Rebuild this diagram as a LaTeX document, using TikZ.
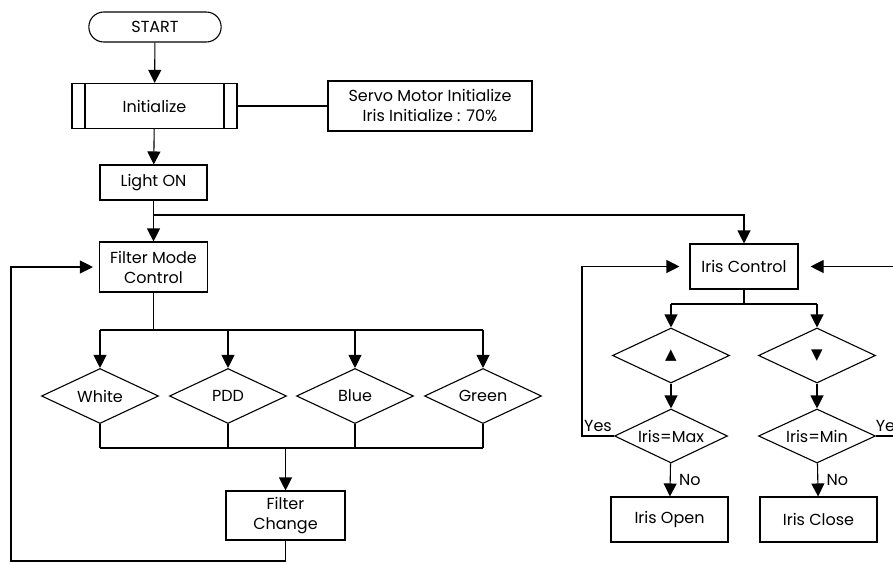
\documentclass[tikz,border=0pt]{standalone}
\usepackage{fontspec}
\setmainfont{Poppins}
\newfontfamily\symfont{DejaVu Sans}
\usetikzlibrary{shapes.geometric, shapes.misc, arrows.meta, positioning, calc}

\begin{document}
\begin{tikzpicture}[
    x=1pt, y=-1pt,
    font=\fontsize{16}{20}\selectfont,
    line width=1.1pt,
    proc/.style={rectangle, draw, align=center, inner sep=2pt},
    term/.style={rounded rectangle, draw, minimum width=139pt, minimum height=30pt},
    sub/.style={proc, path picture={
        \draw ([xshift=13pt]path picture bounding box.north west) -- ([xshift=13pt]path picture bounding box.south west);
        \draw ([xshift=-13pt]path picture bounding box.north east) -- ([xshift=-13pt]path picture bounding box.south east);}},
    dec/.style={diamond, draw, aspect=2.1, minimum width=117pt, minimum height=55pt, inner sep=0pt},
    arr/.style={-{Triangle[length=13pt,width=13pt]}},
    lbl/.style={right, xshift=5pt},
]
\useasboundingbox (0,0) rectangle (893,563);
\clip (0,0) rectangle (893,563);

% left branch
\node[term] (start) at (155,27) {START};
\node[sub, minimum width=165pt, minimum height=45pt] (init) at (154.5,106) {Initialize};
\node[proc, minimum width=204pt, minimum height=50pt] (servo) at (430,106) {Servo Motor Initialize\\Iris Initialize : 70\%};
\node[proc, minimum width=107pt, minimum height=35pt] (light) at (153.5,182.5) {Light ON};
\node[proc, minimum width=108pt, minimum height=50pt] (fmc) at (153.5,267) {Filter Mode\\Control};
\node[dec] (white) at (100,396) {White};
\node[dec] (pdd) at (228,396) {PDD};
\node[dec] (blue) at (355,396) {Blue};
\node[dec] (green) at (483,396) {Green};
\node[proc, minimum width=119pt, minimum height=49pt] (fchange) at (285.5,515.5) {Filter\\Change};

% right branch
\node[proc, minimum width=108pt, minimum height=45pt] (iris) at (744,266.5) {Iris Control};
\node[dec] (up) at (671,355.5) {\symfont\fontsize{15}{15}\selectfont ▲};
\node[dec] (down) at (817,355.5) {\symfont\fontsize{15}{15}\selectfont ▼};
\node[dec, minimum width=113pt, minimum height=54pt] (imax) at (671,436) {Iris=Max};
\node[dec, minimum height=54pt] (imin) at (817,436) {Iris=Min};
\node[proc, minimum width=117pt, minimum height=45pt] (iopen) at (669.5,519.5) {Iris Open};
\node[proc, minimum width=117pt, minimum height=45pt] (iclose) at (818.5,519.5) {Iris Close};

\coordinate (lsplit) at (153.5,215);
\coordinate (fsplit) at (153.5,330);
\coordinate (fjoin) at (285.5,448);
\coordinate (floop) at (11,561);
\coordinate (isplit) at (744,304);
\coordinate (yleft) at (582,436);
\coordinate (yright) at (910,436);

\draw[arr] (start) -- (init);
\draw (init.east) -- (servo.west);
\draw[arr] (init) -- (light);
\draw[arr] (light) -- (fmc);
\draw[arr] (lsplit) -| (iris.north);

\draw (fmc.south) -- (fsplit);
\draw (white.north |- fsplit) -- (green.north |- fsplit);
\foreach \d in {white, pdd, blue, green} {
  \draw[arr] (\d.north |- fsplit) -- (\d.north);
  \draw (\d.south) -- (\d.south |- fjoin);
}
\draw (white.south |- fjoin) -- (green.south |- fjoin);
\draw[arr] (fjoin) -- (fchange);
\draw[arr, shorten >=6pt] (fchange.south) -- (fchange.south |- floop) -- (floop) |- (fmc.west);

\draw (iris.south) -- (isplit);
\draw (up.north |- isplit) -- (down.north |- isplit);
\draw[arr] (up.north |- isplit) -- (up.north);
\draw[arr] (down.north |- isplit) -- (down.north);
\draw[arr] (up) -- (imax);
\draw[arr] (down) -- (imin);
\draw[arr] (imax) -- node[lbl] {No} (iopen);
\draw[arr] (imin) -- node[lbl] {No} (iclose);
\draw[arr, shorten >=10pt] (imax.west) -- node[above] {Yes} (yleft) |- (iris.west);
\draw[arr, shorten >=12pt] (imin.east) -- node[above, pos=0.4] {Yes} (yright) |- (iris.east);

\end{tikzpicture}
\end{document}
